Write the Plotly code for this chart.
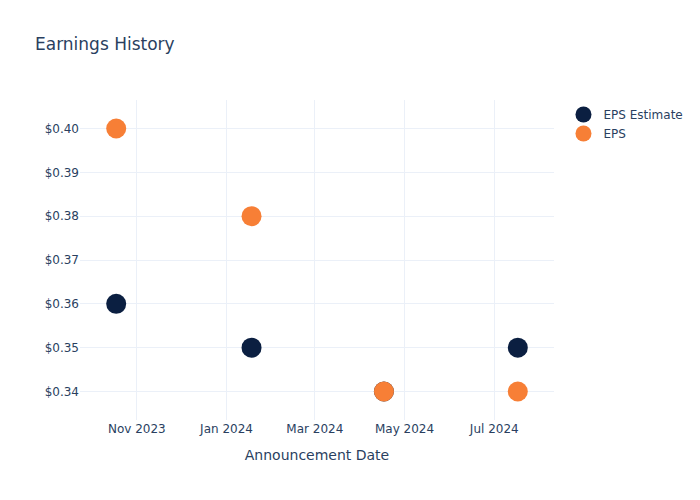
import plotly.graph_objects as go

dates = ["2023-10-18", "2024-01-18", "2024-04-17", "2024-07-17"]
eps_estimate = [0.36, 0.35, 0.34, 0.35]
eps_actual = [0.40, 0.38, 0.34, 0.34]

fig = go.Figure()
fig.add_trace(go.Scatter(x=dates, y=eps_estimate, mode="markers", name="EPS Estimate",
                         marker=dict(color="#0b1f41", size=20)))
fig.add_trace(go.Scatter(x=dates, y=eps_actual, mode="markers", name="EPS",
                         marker=dict(color="#f77f36", size=20)))
fig.update_layout(
    template="plotly_white",
    width=700, height=500,
    font=dict(family="DejaVu Sans"),
    title=dict(text="Earnings History"),
    xaxis=dict(title=dict(text="Announcement Date")),
    yaxis=dict(tickprefix="$", tickformat=".2f"),
)
fig.write_html("out.html")
